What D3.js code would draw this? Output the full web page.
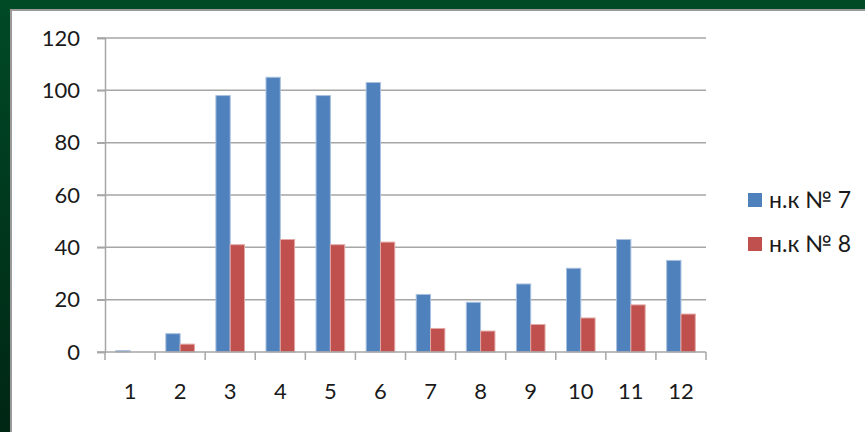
<!DOCTYPE html>
<html>
<head>
<meta charset="UTF-8" />
<script src="https://cdn.jsdelivr.net/npm/d3@7"></script>
<style>
  body { margin: 0; background: #003d22; }
  svg { display: block; }
</style>
</head>
<body>
<svg width="865" height="432"></svg>
<script>
var categories = ["1", "2", "3", "4", "5", "6", "7", "8", "9", "10", "11", "12"]
var seriesNames = ["н.к № 7", "н.к № 8"]
var series7 = [0.5, 7, 98, 105, 98, 103, 22, 19, 26, 32, 43, 35]
var series8 = [0, 3, 41, 43, 41, 42, 9, 8, 10.5, 13, 18, 14.5]
var yTicks = [0, 20, 40, 60, 80, 100, 120]
var colors = ["#4f81bd", "#c0504d"]
var edges = ["#a9c1df", "#e2a8a6"]

var svg = d3.select("svg")

// dark green frame
var defs = svg.append("defs")
var grad = defs.append("linearGradient").attr("id", "bg")
    .attr("x1", 0).attr("y1", 0).attr("x2", 0).attr("y2", 1)
grad.append("stop").attr("offset", "0%").attr("stop-color", "#004a26")
grad.append("stop").attr("offset", "100%").attr("stop-color", "#002614")
svg.append("rect").attr("width", 865).attr("height", 432).attr("fill", "url(#bg)")
svg.append("rect").attr("x", 10).attr("y", 9).attr("width", 860).attr("height", 430)
    .attr("fill", "#9a9a9a")
svg.append("rect").attr("x", 12).attr("y", 11).attr("width", 860).attr("height", 430)
    .attr("fill", "#ffffff")

var plotLeft = 105, plotRight = 706, plotTop = 38, plotBottom = 352

var x0 = d3.scaleBand().domain(categories).range([plotLeft, plotRight]).padding(0)
var x1 = d3.scaleBand().domain(seriesNames).range([0, x0.bandwidth()])
    .paddingInner(0).paddingOuter(0.75)
var y = d3.scaleLinear().domain([0, 120]).range([plotBottom, plotTop])

var fontFam = "Lato, 'Open Sans', sans-serif"

// gridlines
svg.append("g").selectAll("line").data(yTicks.slice(1)).enter().append("line")
    .attr("x1", plotLeft - 8).attr("x2", plotRight)
    .attr("y1", d => y(d)).attr("y2", d => y(d))
    .attr("stroke", "#a6a6a6").attr("stroke-width", 1.5)

// y axis
var yAxis = d3.axisLeft(y).tickValues(yTicks).tickSize(8).tickPadding(17)
var yG = svg.append("g").attr("transform", "translate(" + plotLeft + ",0)").call(yAxis)
yG.select(".domain").attr("stroke", "#a6a6a6").attr("stroke-width", 1.5)
yG.selectAll(".tick line").attr("stroke", "#a6a6a6").attr("stroke-width", 1.5)
yG.selectAll(".tick text").attr("font-family", fontFam)
    .attr("font-size", 22).attr("fill", "#1a1a1a")

// bars
var data = categories.map((c, i) => ({ cat: c, vals: [series7[i], series8[i]] }))
var groups = svg.append("g").selectAll("g").data(data).enter().append("g")
    .attr("transform", d => "translate(" + x0(d.cat) + ",0)")
groups.selectAll("rect").data(d => d.vals.map((v, k) => ({ name: seriesNames[k], v: v, k: k })))
    .enter().append("rect")
    .attr("x", d => x1(d.name))
    .attr("width", x1.bandwidth())
    .attr("y", d => y(d.v))
    .attr("height", d => y(0) - y(d.v))
    .attr("fill", d => colors[d.k])
    .attr("stroke", d => d.v > 0 ? edges[d.k] : "none")
    .attr("stroke-width", 1)

// x axis
var xAxis = d3.axisBottom(x0).tickSize(0).tickPadding(31)
var xG = svg.append("g").attr("transform", "translate(0," + plotBottom + ")").call(xAxis)
xG.select(".domain").remove()
xG.append("line").attr("x1", plotLeft - 8).attr("x2", plotRight).attr("y1", 0).attr("y2", 0)
    .attr("stroke", "#a6a6a6").attr("stroke-width", 1.5)
xG.selectAll("line.bt").data(d3.range(categories.length + 1)).enter().append("line")
    .attr("class", "bt")
    .attr("x1", i => plotLeft + i * x0.step()).attr("x2", i => plotLeft + i * x0.step())
    .attr("y1", 0).attr("y2", 8)
    .attr("stroke", "#a6a6a6").attr("stroke-width", 1.5)
xG.selectAll(".tick text").attr("font-family", fontFam)
    .attr("font-size", 22).attr("fill", "#1a1a1a")

// legend
var legend = svg.append("g").selectAll("g").data(seriesNames).enter().append("g")
    .attr("transform", (d, i) => "translate(748," + (193 + i * 44) + ")")
legend.append("rect").attr("width", 14).attr("height", 14)
    .attr("fill", (d, i) => colors[i])
legend.append("text").attr("x", 21).attr("y", 7).attr("dy", "0.36em")
    .attr("font-family", fontFam).attr("font-size", 23)
    .attr("fill", "#1a1a1a").text(d => d)
</script>
</body>
</html>
